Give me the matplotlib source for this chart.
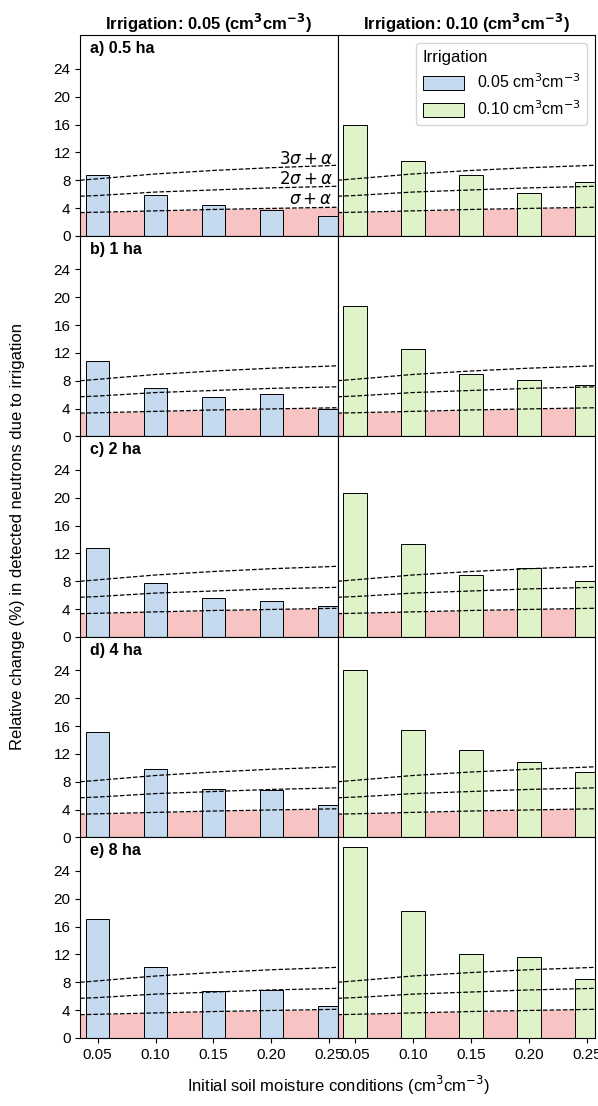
import matplotlib
matplotlib.use("Agg")
import matplotlib.pyplot as plt
from matplotlib.patches import Patch

plt.rcParams["font.family"] = ["Arial", "Liberation Sans", "DejaVu Sans"]
plt.rcParams["mathtext.fontset"] = "dejavusans"

BLUE = "#c5d9ef"
GREEN = "#dff3c8"
RED = "#f7c3c3"

moisture = [0.05, 0.10, 0.15, 0.20, 0.25]
tick_labels = ["0.05", "0.10", "0.15", "0.20", "0.25"]
panel_labels = ["a) 0.5 ha", "b) 1 ha", "c) 2 ha", "d) 4 ha", "e) 8 ha"]

change_005 = [
    [8.7, 5.9, 4.4, 3.7, 2.8],
    [10.9, 7.0, 5.6, 6.1, 4.0],
    [12.8, 7.7, 5.6, 5.1, 4.4],
    [15.2, 9.8, 7.0, 6.8, 4.7],
    [17.1, 10.2, 6.8, 6.9, 4.6],
]
change_010 = [
    [15.9, 10.7, 8.8, 6.2, 7.8],
    [18.8, 12.5, 8.9, 8.1, 7.4],
    [20.7, 13.4, 8.9, 9.9, 8.0],
    [24.0, 15.4, 12.5, 10.9, 9.4],
    [27.5, 18.3, 12.1, 11.6, 8.4],
]

# threshold curves sampled across the axis range
line_x = [0.035, 0.05, 0.10, 0.15, 0.20, 0.25, 0.257]
sigma1 = [3.35, 3.4, 3.6, 3.8, 3.95, 4.1, 4.12]
sigma2 = [5.7, 5.8, 6.3, 6.6, 6.9, 7.1, 7.13]
sigma3 = [8.0, 8.2, 8.9, 9.4, 9.8, 10.1, 10.15]

fig, axes = plt.subplots(5, 2, figsize=(5.98, 11.06), dpi=100, sharex=True, sharey=True)
fig.subplots_adjust(left=0.134, right=0.995, top=0.968, bottom=0.0615, hspace=0, wspace=0)

for r in range(5):
    for c, (vals, col) in enumerate([(change_005, BLUE), (change_010, GREEN)]):
        ax = axes[r, c]
        ax.fill_between(line_x, 0, sigma1, color=RED, lw=0, zorder=1)
        ax.bar(moisture, vals[r], width=0.02, color=col, edgecolor="black", linewidth=0.7, zorder=2)
        for s in (sigma1, sigma2, sigma3):
            ax.plot(line_x, s, ls="--", color="black", lw=0.9, zorder=3)
        ax.set_xlim(0.035, 0.257)
        ax.set_ylim(0, 28.8)
        ax.set_yticks(range(0, 25, 4))
        ax.tick_params(labelsize=11)
        if c == 1:
            ax.tick_params(left=False, labelleft=False)
        else:
            ax.text(0.04, 0.97, panel_labels[r], transform=ax.transAxes, fontsize=11.5,
                    fontweight="bold", va="top", ha="left")
    axes[r, 0].set_xticks(moisture)
    axes[r, 0].set_xticklabels(tick_labels)

ax = axes[0, 0]
ax.text(0.253, 9.9, r"$3\sigma + \alpha$", fontsize=12, ha="right", va="bottom")
ax.text(0.253, 7.0, r"$2\sigma + \alpha$", fontsize=12, ha="right", va="bottom")
ax.text(0.253, 4.1, r"$\sigma + \alpha$", fontsize=12, ha="right", va="bottom")

axes[0, 0].set_title(r"Irrigation: 0.05 (cm$^\mathbf{3}$cm$^\mathbf{-3}$)", fontsize=12, fontweight="bold", pad=4)
axes[0, 1].set_title(r"Irrigation: 0.10 (cm$^\mathbf{3}$cm$^\mathbf{-3}$)", fontsize=12, fontweight="bold", pad=4)

handles = [Patch(facecolor=BLUE, edgecolor="black", lw=0.7, label=r"0.05 cm$^3$cm$^{-3}$"),
           Patch(facecolor=GREEN, edgecolor="black", lw=0.7, label=r"0.10 cm$^3$cm$^{-3}$")]
axes[0, 1].legend(handles=handles, title="Irrigation", loc="upper right", fontsize=11.5,
                  title_fontsize=12, alignment="left", handlelength=2.6, handleheight=1.0)

fig.text(0.03, 0.515, "Relative change (%) in detected neutrons due to irrigation",
         rotation=90, ha="center", va="center", fontsize=12)
fig.text(0.566, 0.008, r"Initial soil moisture conditions (cm$^3$cm$^{-3}$)",
         ha="center", va="bottom", fontsize=12)

fig.savefig("out.png", dpi=100)
